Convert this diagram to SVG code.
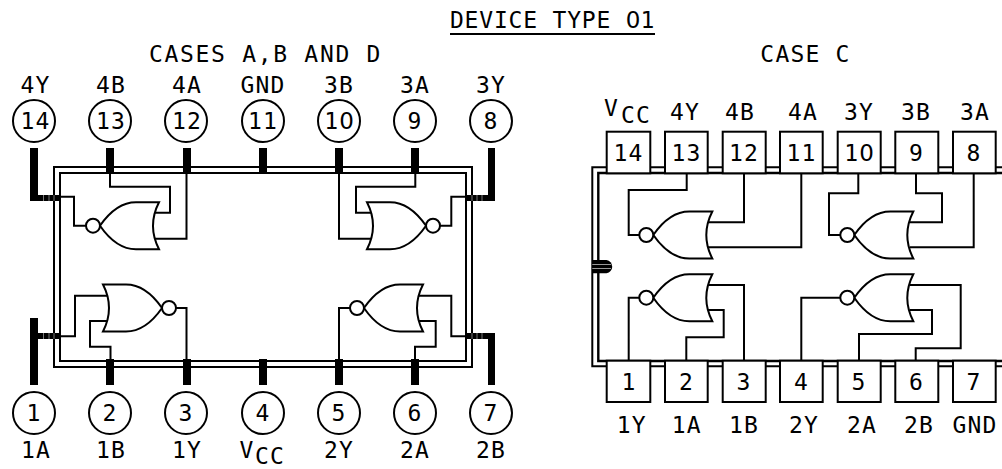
<svg xmlns="http://www.w3.org/2000/svg" width="1002" height="469" viewBox="0 0 1002 469">
<style>
text{font-family:"DejaVu Sans Mono",monospace;font-size:23px;fill:#000;text-anchor:middle;letter-spacing:1.200px}
.z{font-family:"DejaVu Sans",sans-serif;letter-spacing:0}
.w,.pk,.gate,.node circle,.box{fill:none;stroke:#000;stroke-width:2}
.node circle{fill:#fff}
.box{fill:#fff}
.gate{fill:#fff}
.pin{fill:#000}
.tick{stroke:#777;stroke-width:1;fill:none}
</style>
<defs>
<g id="nor"><path class="gate" d="M0 0C9-13 20-23.500 36-23.500H59Q47 0 59 23.500H36C20 23.500 9 13 0 0Z"/><circle class="gate" cx="-7" cy="0" r="7"/></g>
</defs>
<rect width="1002" height="469" fill="#fff"/>
<g id="title">
<text x="552.500" y="28" style="letter-spacing:.8px">DEVICE TYPE <tspan class="z">0</tspan>1</text>
<path d="M450 34H655" stroke="#000" stroke-width="2"/>
<text x="265.500" y="62" style="letter-spacing:1.700px">CASES A,B AND D</text>
<text x="805.500" y="62">CASE C</text>
</g>
<g id="package-left">
<rect class="pk" x="54" y="167" width="418" height="200"/>
<rect class="pk" x="60" y="173" width="406" height="188"/>
</g>
<g id="connectors">
<path class="w" d="M110 174V186.700H170V212.700H155M186.500 174V238.700H155M86 225.700H74V196.700H60"/>
<path class="w" d="M415.300 174V186.700H356V212.700H372M339 174V238.700H372M440 225.700H451.300V196.700H466"/>
<path class="w" d="M107 295.700H75V336.300H60M107 321H90V346.700H110.500V359M176 308H186.500V359"/>
<path class="w" d="M417 295.700H451.300V336.300H466M417 321H435.700V346.700H415V359M350 308H339V359"/>
<path class="w" d="M708 222.300H744V173M708 247.300H801.300V173M639 235H628.700V190H686.700V173"/>
<path class="w" d="M910 222.300H942V193.300H916V173M910 247.300H973.700V173M840 235H829V193.300H858.300V173"/>
<path class="w" d="M708 285H744V361M708 310H723.700V337.300H686.300V361M639 297.700H628.700V361"/>
<path class="w" d="M910 285H960.700V348.300H915.700V361M910 310H932V334H859V361M840 297.700H801.300V361"/>
</g>
<g id="gate-4"><use href="#nor" transform="translate(100 225.700)"/></g>
<g id="gate-3"><use href="#nor" transform="translate(426 225.700) scale(-1 1)"/></g>
<g id="gate-1"><use href="#nor" transform="translate(162 308) scale(-1 1)"/></g>
<g id="gate-2"><use href="#nor" transform="translate(364 308)"/></g>
<g id="gate-c4"><use href="#nor" transform="translate(653.300 235)"/></g>
<g id="gate-c3"><use href="#nor" transform="translate(854.300 235)"/></g>
<g id="gate-c1"><use href="#nor" transform="translate(653.300 297.700)"/></g>
<g id="gate-c2"><use href="#nor" transform="translate(854.300 297.700)"/></g>
<g id="pin-14" class="node"><circle cx="34" cy="121" r="21"/><text x="35.500" y="129">14</text><text x="35.500" y="92.500">4Y</text><path class="pin" d="M30 148H38V195H60V201H30Z"/><path class="tick" d="M43.500 195V201M49 195V201M54 195V201"/></g>
<g id="pin-13" class="node"><circle cx="110" cy="121" r="21"/><text x="111" y="129">13</text><text x="111" y="92.500">4B</text><rect class="pin" x="106" y="148" width="8" height="26"/></g>
<g id="pin-12" class="node"><circle cx="186" cy="121" r="21"/><text x="187" y="129">12</text><text x="187" y="92.500">4A</text><rect class="pin" x="183" y="148" width="8" height="26"/></g>
<g id="pin-11" class="node"><circle cx="263" cy="121" r="21"/><text x="263" y="129">11</text><text x="263" y="92.500">GND</text><rect class="pin" x="259" y="148" width="8" height="26"/></g>
<g id="pin-10" class="node"><circle cx="339" cy="121" r="21"/><text x="339" y="129">1<tspan class="z">0</tspan></text><text x="339" y="92.500">3B</text><rect class="pin" x="335" y="148" width="8" height="26"/></g>
<g id="pin-9" class="node"><circle cx="415" cy="121" r="21"/><text x="415" y="129">9</text><text x="415" y="92.500">3A</text><rect class="pin" x="411" y="148" width="8" height="26"/></g>
<g id="pin-8" class="node"><circle cx="491" cy="121" r="21"/><text x="491" y="129">8</text><text x="491" y="92.500">3Y</text><path class="pin" d="M488 148H495V201H466V195H488Z"/><path class="tick" d="M472 195V201M477 195V201M482 195V201"/></g>
<g id="pin-1" class="node"><circle cx="34" cy="413" r="21"/><text x="34" y="421">1</text><text x="36" y="458">1A</text><path class="pin" d="M30 318H38V333H60V339H38V385H30Z"/><path class="tick" d="M43.500 333V339M49 333V339M54 333V339"/></g>
<g id="pin-2" class="node"><circle cx="110" cy="413" r="21"/><text x="110" y="421">2</text><text x="111" y="458">1B</text><rect class="pin" x="106" y="359" width="8" height="26"/></g>
<g id="pin-3" class="node"><circle cx="186" cy="413" r="21"/><text x="186" y="421">3</text><text x="187" y="458">1Y</text><rect class="pin" x="183" y="359" width="8" height="26"/></g>
<g id="pin-4" class="node"><circle cx="263" cy="413" r="21"/><text x="263" y="421">4</text><text x="247" y="458">V</text><text x="270" y="464">CC</text><rect class="pin" x="259" y="359" width="8" height="26"/></g>
<g id="pin-5" class="node"><circle cx="339" cy="413" r="21"/><text x="339" y="421">5</text><text x="339" y="458">2Y</text><rect class="pin" x="335" y="359" width="8" height="26"/></g>
<g id="pin-6" class="node"><circle cx="415" cy="413" r="21"/><text x="415" y="421">6</text><text x="415" y="458">2A</text><rect class="pin" x="411" y="359" width="8" height="26"/></g>
<g id="pin-7" class="node"><circle cx="491" cy="413" r="21"/><text x="491" y="421">7</text><text x="491" y="458">2B</text><path class="pin" d="M466 333H495V385H488V339H466Z"/><path class="tick" d="M472 333V339M477 333V339M482 333V339"/></g>
<g id="package-right">
<path class="pk" d="M1002 167.300H592.300V366.300H1002"/>
<path class="pk" d="M1002 173H598.300V361H1002" style="stroke-width:2.400"/>
<path class="pin" d="M592.300 260H606.500A6.500 6.700 0 0 1 606.500 273.300H592.300Z"/>
<path d="M592.300 264.500H611M592.300 268.500H611" stroke="#999" stroke-width="1"/>
</g>
<g id="c-14"><rect class="box" x="606.700" y="131.700" width="43.600" height="41.600"/><text x="628.500" y="161">14</text><text x="611.500" y="116">V</text><text x="636" y="123">CC</text></g>
<g id="c-13"><rect class="box" x="665" y="131.700" width="42.700" height="41.600"/><text x="686.500" y="161">13</text><text x="685" y="120">4Y</text></g>
<g id="c-12"><rect class="box" x="722.700" y="131.700" width="43" height="41.600"/><text x="740" y="120">4B</text><text x="744" y="161">12</text></g>
<g id="c-11"><rect class="box" x="780" y="131.700" width="42.700" height="41.600"/><text x="801.500" y="161">11</text><text x="803" y="120">4A</text></g>
<g id="c-10"><rect class="box" x="837.700" y="131.700" width="43" height="41.600"/><text x="859" y="161">1<tspan class="z">0</tspan></text><text x="859" y="120">3Y</text></g>
<g id="c-9"><rect class="box" x="895.300" y="131.700" width="43" height="41.600"/><text x="916.500" y="161">9</text><text x="916" y="120">3B</text></g>
<g id="c-8"><rect class="box" x="953" y="131.700" width="42.700" height="41.600"/><text x="974" y="161">8</text><text x="975" y="120">3A</text></g>
<g id="c-1"><rect class="box" x="606.700" y="360.700" width="43.600" height="41.300"/><text x="629" y="390">1</text><text x="631.700" y="432.500">1Y</text></g>
<g id="c-2"><rect class="box" x="665" y="360.700" width="42.700" height="41.300"/><text x="686.500" y="390">2</text><text x="686.700" y="432.500">1A</text></g>
<g id="c-3"><rect class="box" x="722.700" y="360.700" width="43" height="41.300"/><text x="744" y="390">3</text><text x="744" y="432.500">1B</text></g>
<g id="c-4"><rect class="box" x="780" y="360.700" width="42.700" height="41.300"/><text x="801.500" y="390">4</text><text x="804" y="432.500">2Y</text></g>
<g id="c-5"><rect class="box" x="837.700" y="360.700" width="43" height="41.300"/><text x="859" y="390">5</text><text x="862" y="432.500">2A</text></g>
<g id="c-6"><rect class="box" x="895.300" y="360.700" width="43" height="41.300"/><text x="916.500" y="390">6</text><text x="919" y="432.500">2B</text></g>
<g id="c-7"><rect class="box" x="953" y="360.700" width="42.700" height="41.300"/><text x="974" y="390">7</text><text x="975" y="432.500">GND</text></g>
</svg>
